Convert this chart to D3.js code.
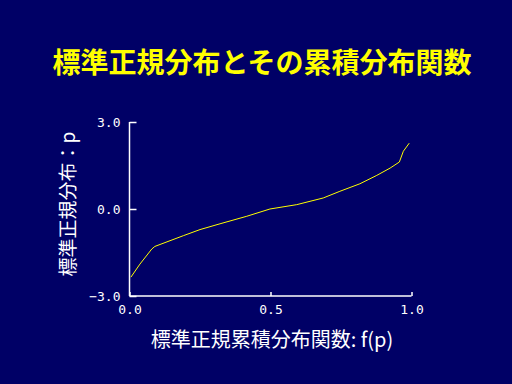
<!DOCTYPE html>
<html><head><meta charset="utf-8">
<script src="https://cdn.jsdelivr.net/npm/d3@7"></script>
<style>html,body{margin:0;padding:0;background:#000066;}svg{display:block;}</style>
</head><body>
<script>
const title = "標準正規分布とその累積分布関数";
const xLabel = "標準正規累積分布関数: f(p)";
const yLabel = "標準正規分布：p";
const xTicks = [0, 0.5, 1.0];
const yTicks = [-3, 0, 3];
const fp = [0.005, 0.037, 0.079, 0.090, 0.191, 0.25, 0.321, 0.416, 0.498, 0.593, 0.687, 0.746, 0.817, 0.877, 0.924, 0.957, 0.971, 0.992];
const p  = [-2.35, -1.90, -1.38, -1.29, -0.92, -0.71, -0.51, -0.25, 0.0, 0.15, 0.38, 0.61, 0.87, 1.16, 1.41, 1.62, 1.99, 2.27];

const W = 512, H = 384;
const svg = d3.select("body").append("svg").attr("width", W).attr("height", H);
svg.append("rect").attr("width", W).attr("height", H).attr("fill", "#000066");

const x = d3.scaleLinear().domain([0, 1]).range([129.5, 411.5]);
const y = d3.scaleLinear().domain([-3, 3]).range([296, 122]);

svg.append("text").attr("x", 262).attr("y", 73).attr("text-anchor", "middle")
  .attr("fill", "#ffff00").attr("font-family", "Noto Sans CJK JP").attr("font-weight", "bold")
  .attr("font-size", 28).text(title);

const fmt = d3.format(".1f");
const xa = svg.append("g").attr("transform", `translate(0,${y(-3)})`)
  .call(d3.axisBottom(x).tickValues(xTicks).tickSize(-4).tickPadding(9).tickFormat(fmt));
const ya = svg.append("g").attr("transform", `translate(${x(0)},0)`)
  .call(d3.axisLeft(y).tickValues(yTicks).tickSize(-7).tickPadding(9).tickFormat(fmt));
[xa, ya].forEach(g => {
  g.select(".domain").attr("stroke", "#fff").attr("stroke-width", 1.5);
  g.selectAll(".tick line").attr("stroke", "#fff").attr("stroke-width", 1.5);
  g.selectAll(".tick text").attr("fill", "#fff").attr("font-family", "DejaVu Sans Mono").attr("font-size", 13);
});
ya.select(".domain").attr("d", `M0,${y(3)}H-0V${y(-3)}H0`);
xa.select(".domain").attr("d", `M${x(0)},0V0H${x(1)}V0`);

const line = d3.line().x((d, i) => x(fp[i])).y((d, i) => y(p[i]));
svg.append("path").datum(fp).attr("d", line).attr("fill", "none")
  .attr("stroke", "#ffff00").attr("stroke-width", 1);

svg.append("text").attr("x", 272).attr("y", 347).attr("text-anchor", "middle")
  .attr("fill", "#fff").attr("font-family", "Noto Sans CJK JP").attr("font-size", 20).text(xLabel);
svg.append("text").attr("transform", "translate(75,204) rotate(-90)").attr("text-anchor", "middle")
  .attr("fill", "#fff").attr("font-family", "Noto Sans CJK JP").attr("font-size", 19).text(yLabel);
</script>
</body></html>
